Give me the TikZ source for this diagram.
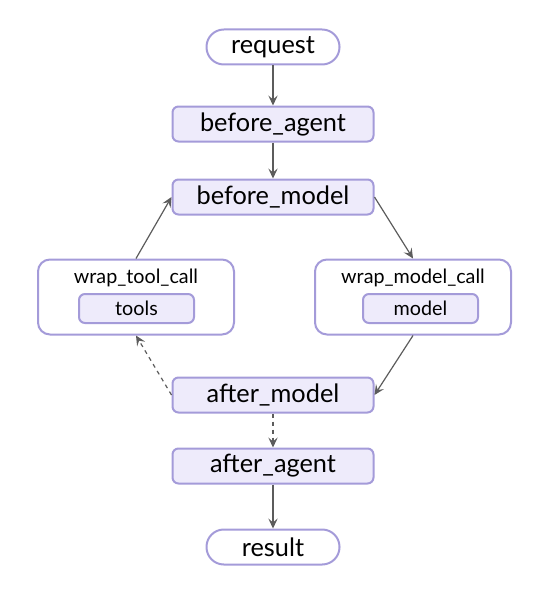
\documentclass[tikz,border=0pt]{standalone}
\usepackage{fontspec}
\setmainfont{Lato}
\usetikzlibrary{arrows.meta}
\definecolor{hookfill}{HTML}{EEEBFB}
\definecolor{hookline}{HTML}{A49BD9}
\definecolor{edgegray}{HTML}{5C5C5C}
\tikzset{
    hook/.style={draw=hookline, fill=hookfill, line width=1.5pt, rounded corners=4.5pt,
        minimum width=150.75pt, minimum height=26.25pt, inner sep=0pt,
        font=\fontsize{19}{21}\selectfont},
    pill/.style={draw=hookline, fill=white, line width=1.5pt, rounded corners=13pt,
        minimum width=99.75pt, minimum height=26.25pt, inner sep=0pt,
        font=\fontsize{19}{21}\selectfont},
    wrapbox/.style={draw=hookline, fill=white, line width=1.5pt, rounded corners=9pt,
        minimum width=147pt, minimum height=56.25pt, inner sep=0pt},
    wraplabel/.style={inner sep=0pt, font=\fontsize{14.8}{17}\selectfont},
    inner/.style={draw=hookline, fill=hookfill, line width=1.5pt, rounded corners=4.5pt,
        minimum width=86.25pt, minimum height=21.75pt, inner sep=0pt,
        font=\fontsize{14.8}{17}\selectfont},
    flow/.style={draw=edgegray, line width=0.9pt, -{Stealth[length=7.5pt,width=7pt,inset=3pt]}},
}

\begin{document}
\begin{tikzpicture}[x=0.75pt,y=-0.75pt]
    \useasboundingbox (0,0) rectangle (548,592);
    \node[pill] (request) at (273,47) {request};
    \node[hook] (bagent) at (273,124) {before\_agent};
    \node[hook] (bmodel) at (273,197) {before\_model};

    \node[wrapbox] (wtool) at (136,297) {};
    \node[wraplabel] (wtoollabel) at (136,278) {wrap\_tool\_call};
    \node[inner] (tools) at (136.5,308.5) {tools};

    \node[wrapbox] (wmodel) at (413,297) {};
    \node[wraplabel] (wmodellabel) at (413,278) {wrap\_model\_call};
    \node[inner] (model) at (420.5,308.5) {model};

    \node[hook] (amodel) at (273,395) {after\_model};
    \node[hook] (aagent) at (273,466) {after\_agent};
    \node[pill] (result) at (273,547) {result};

    \draw[flow] (request) -- (bagent);
    \draw[flow] (bagent) -- (bmodel);
    \draw[flow] (bmodel.east) -- (wmodel.north);
    \draw[flow] (wmodel.south) -- (amodel.east);
    \draw[flow, dashed] (amodel.west) -- (wtool.south);
    \draw[flow] (wtool.north) -- (bmodel.west);
    \draw[flow, dashed] (amodel) -- (aagent);
    \draw[flow] (aagent) -- (result);
\end{tikzpicture}
\end{document}
